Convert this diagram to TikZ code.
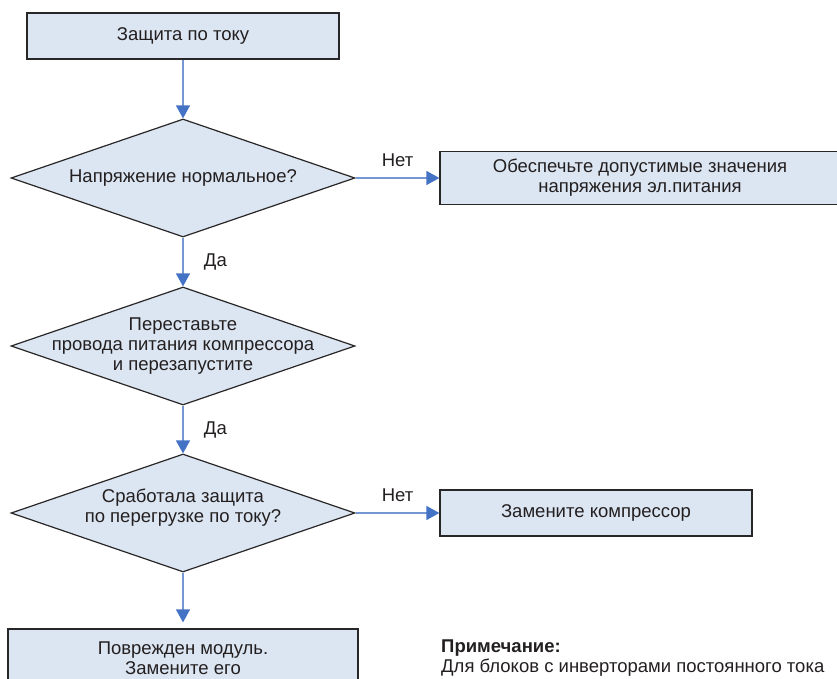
\documentclass[tikz,border=0pt]{standalone}
\usepackage{fontspec}
\setmainfont{Liberation Sans}
\usetikzlibrary{shapes.geometric,arrows.meta}
\definecolor{fcfill}{RGB}{220,230,242}
\definecolor{fcline}{RGB}{40,38,38}
\definecolor{fcblue}{RGB}{68,114,196}
\definecolor{fcwire}{RGB}{118,152,210}
\definecolor{fctext}{RGB}{35,31,32}

\begin{document}
\begin{tikzpicture}[x=1pt, y=1pt,
    box/.style={rectangle, draw=fcline, fill=fcfill, line width=1.2pt,
                minimum height=46pt, inner sep=0pt,
                font=\fontsize{18.5}{20}\selectfont, align=center, text=fctext},
    check/.style={diamond, draw=fcline, fill=fcfill, line width=1.2pt,
                  minimum width=344pt, minimum height=118pt, inner sep=0pt},
    qtext/.style={font=\fontsize{18.5}{20}\selectfont, align=center, text=fctext},
    arrow/.style={-{Triangle[width=14pt, length=13pt, color=fcblue]},
                  line width=1.3pt, color=fcwire},
    lbl/.style={font=\fontsize{18.5}{20}\selectfont, text=fctext}
  ]
    \clip (0,0) rectangle (837,-679);

    \node[box, minimum width=312pt] (prot)   at (183, -36)  {Защита по току};
    \node[check]                   (volt)   at (183, -178) {};
    \node[qtext]                            at (volt)      {Напряжение нормальное?};
    \node[box, minimum width=400pt, minimum height=53pt]
                                   (supply) at (640, -178) {Обеспечьте допустимые значения\\напряжения эл.питания};
    \node[check]                   (swap)   at (183, -346) {};
    \node[qtext]                            at (swap)      {Переставьте\\провода питания компрессора\\и перезапустите};
    \node[check]                   (over)   at (183, -513) {};
    \node[qtext, yshift=5pt]                at (over)      {Сработала защита\\по перегрузке по току?};
    \node[box, minimum width=312pt] (comp)  at (596, -513) {Замените компрессор};
    \node[box, minimum width=350pt, minimum height=58pt]
                                   (module) at (183, -658) {Поврежден модуль.\\Замените его};

    \draw[arrow] (prot)   -- (volt);
    \draw[arrow] (volt)   -- node[lbl, above=7pt]{Нет} (supply);
    \draw[arrow] (volt)   -- node[lbl, right=17pt]{Да} (swap);
    \draw[arrow] (swap)   -- node[lbl, right=17pt]{Да} (over);
    \draw[arrow] (over)   -- node[lbl, above=7pt]{Нет} (comp);
    \draw[arrow, shorten >=6pt] (over) -- (module);

    \node[lbl, align=left, anchor=west, inner sep=0pt] (note) at (441, -658)
      {\textbf{Примечание:}\\Для блоков с инверторами постоянного тока};
  \end{tikzpicture}
\end{document}
